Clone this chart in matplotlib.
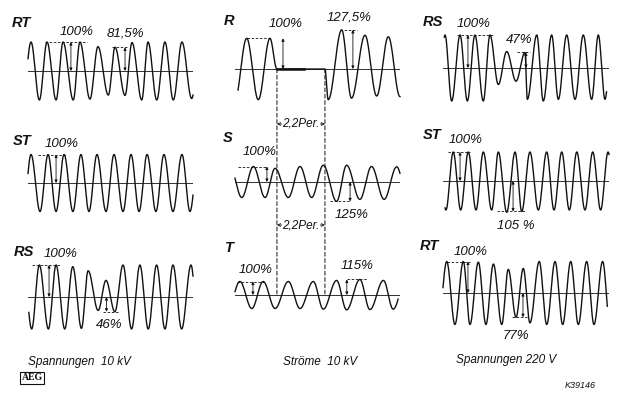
import numpy as np
import matplotlib.pyplot as plt
from matplotlib.patches import ConnectionPatch
from matplotlib.transforms import blended_transform_factory

# Oszillogramme: Extremwerte je Halbwelle, Zeit in Perioden, Wert in % der Amplitude vor dem Fehler

# Spannungen 10 kV
rt10_t = [-0.32, 0.18, 0.68, 1.14, 1.68, 2.1, 2.71, 3.11, 3.71, 4.19, 4.81, 5.21,
          5.81, 6.23, 6.81, 7.19, 7.71, 8.2, 8.7, 9.22, 9.8, 10.3]
rt10_v = [-100, 100, -100, 100, -100, 100, -100, 100, -97, 84, -83, 82,
          -84, 98, -100, 100, -100, 100, -100, 100, -95, 100]
st10_t = [-0.28, 0.18, 0.72, 1.2, 1.68, 2.16, 2.69, 3.17, 3.65, 4.13, 4.67, 5.15,
          5.69, 6.17, 6.65, 7.13, 7.66, 8.14, 8.68, 9.22, 9.7, 10.2]
st10_v = [-100, 100, -100, 100, -100, 100, -100, 100, -100, 100, -100, 100,
          -100, 100, -100, 100, -100, 100, -100, 100, -100, 100]
rs10_t = [-0.28, 0.22, 0.68, 1.22, 1.68, 2.2, 2.68, 3.2, 3.6, 4.2, 4.67, 5.2,
          5.69, 6.2, 6.7, 7.2, 7.7, 8.2, 8.68, 9.2, 9.76, 10.2]
rs10_v = [100, -100, 100, -100, 100, -100, 95, -98, 82, -42, 52, -46,
          100, -100, 100, -100, 100, -100, 100, -100, 100, -100]

# Ströme 10 kV
r_t = [-0.5, 0.0, 0.5, 1.0, 1.5, 1.8, 3.86, 4.0, 4.58, 5.0, 5.58, 6.08, 6.58, 7.08, 7.58]
r_v = [100, -100, 100, -100, 100, 0, 0, -100, 127.5, -95, 110, -88, 105, -90, 100]
s_t = [-0.21, 0.29, 0.79, 1.29, 1.72, 2.29, 2.79, 3.29, 3.79, 4.36, 4.79, 5.36,
       5.86, 6.4, 6.94, 7.4]
s_v = [100, -100, 100, -100, 88, -100, 100, -100, 108, -125, 108, -112,
       100, -112, 98, -100]
t_t = [-0.29, 0.21, 0.72, 1.21, 1.72, 2.29, 2.79, 3.36, 3.79, 4.36, 4.79, 5.36,
       5.79, 6.37, 6.79, 7.3]
t_v = [-100, 100, -100, 100, -100, 100, -100, 100, -105, 108, -110, 115,
       -108, 108, -105, 100]
pause_per = [1.8, 3.86]  # Stromlose Pause 2,2 Perioden

# Spannungen 220 V
rs220_t = [-0.3, 0.13, 0.56, 1.10, 1.57, 2.06, 2.6, 3.03, 3.57, 4.11, 4.71, 5.29,
           5.44, 6.05, 6.47, 7.01, 7.44, 7.98, 8.52, 9.05, 9.59, 10.02, 10.45, 10.9]
rs220_v = [-100, 100, -100, 100, -100, 100, -100, 100, -50, 50, -40, 47,
           -95, 100, -100, 100, -95, 100, -95, 100, -95, 100, -95, 100]
st220_t = [-0.3, 0.19, 0.66, 1.14, 1.63, 2.13, 2.6, 3.14, 3.57, 4.11, 4.65, 5.08,
           5.61, 6.15, 6.69, 7.16, 7.66, 8.15, 8.63, 9.16, 9.66, 10.17, 10.65, 11.1]
st220_v = [100, -100, 100, -100, 100, -100, 100, -100, 100, -108, 100, -105,
           100, -100, 100, -100, 100, -100, 100, -100, 100, -100, 100, -100]
rt220_t = [-0.3, 0.24, 0.77, 1.31, 1.74, 2.28, 2.77, 3.25, 3.79, 4.21, 4.71, 5.18,
           5.61, 6.21, 6.69, 7.23, 7.72, 8.24, 8.73, 9.27, 9.74, 10.3, 10.77]
rt220_v = [-100, 100, -100, 100, -100, 98, -100, 92, -100, 75, -77, 78,
           -95, 100, -100, 100, -100, 100, -100, 100, -100, 100, -100]

W, H = 620, 394
INK = '#111111'
FONTS = ['Liberation Sans', 'DejaVu Sans']

fig = plt.figure(figsize=(W / 100, H / 100), dpi=100)
fig.patch.set_facecolor('white')


def px(x, y):
    return x / W, 1 - y / H


def panel(x0, x1, yb, per, amp, half=58):
    ax = fig.add_axes([x0 / W, 1 - (yb + half) / H, (x1 - x0) / W, 2 * half / H])
    ax.set_xlim(0, (x1 - x0) / per)
    lim = half / amp * 100
    ax.set_ylim(-lim, lim)
    ax.axis('off')
    ax.patch.set_visible(False)
    ax.axhline(0, color=INK, lw=0.6)
    return ax


def wave(ax, t, v, lo, hi):
    t = np.asarray(t, float)
    v = np.asarray(v, float)
    tt = np.linspace(lo, hi, 3000)
    i = np.clip(np.searchsorted(t, tt) - 1, 0, len(t) - 2)
    s = (tt - t[i]) / (t[i + 1] - t[i])
    y = (v[i] + v[i + 1]) / 2 + (v[i] - v[i + 1]) / 2 * np.cos(np.pi * s)
    ax.plot(tt, y, color=INK, lw=1.0, clip_on=False)


def mark(ax, level, t0, t1, ta):
    ax.plot([t0, t1], [level, level], color=INK, lw=0.6, ls=(0, (3, 2)))
    ax.annotate('', xy=(ta, 0), xytext=(ta, level),
                arrowprops=dict(arrowstyle='<|-|>', color=INK, lw=0.6,
                                mutation_scale=4, shrinkA=0, shrinkB=0))


def label(x, y, s, size=9.5, bold=False):
    fig.text(*px(x, y), s, ha='center', va='center', fontsize=size,
             family=FONTS, style='italic',
             weight='bold' if bold else 'normal', color=INK)


# linke Spalte
ax = panel(28, 193, 71, 16.7, 29)
wave(ax, rt10_t, rt10_v, 0, 9.88)
mark(ax, 100, 1.02, 3.53, 2.57)
mark(ax, 81.5, 5.03, 5.99, 5.81)
ax = panel(28, 193, 183, 16.7, 28.5)
wave(ax, st10_t, st10_v, 0, 9.88)
mark(ax, 100, 0.6, 2.34, 1.68)
ax = panel(28, 193, 297, 16.7, 32)
wave(ax, rs10_t, rs10_v, 0.05, 9.88)
mark(ax, 100, 0.24, 1.92, 1.26)
mark(ax, -46, 4.49, 5.39, 4.7)

# mittlere Spalte
ax_r = panel(235, 400, 69, 23.3, 30.7)
wave(ax_r, r_t, r_v, 0.13, 7.08)
ax_r.plot([pause_per[0], 2.95], [0, 0], color=INK, lw=1.8)
mark(ax_r, 100, 0.52, 1.59, 2.06)
mark(ax_r, 127.5, 4.5, 5.24, 5.06)
ax_s = panel(235, 400, 182, 23.3, 15.5)
wave(ax_s, s_t, s_v, 0, 7.08)
mark(ax_s, 100, 0.13, 1.37, 1.37)
mark(ax_s, -125, 4.08, 4.94, 4.94)
ax_t = panel(235, 400, 295, 23.3, 13.5)
wave(ax_t, t_t, t_v, 0, 7.0)
mark(ax_t, 100, 0.1, 1.29, 0.77)
mark(ax_t, 115, 4.8, 5.67, 4.8)

for tp in pause_per:
    fig.add_artist(ConnectionPatch(xyA=(tp, 0), coordsA=ax_r.transData,
                                   xyB=(tp, 0), coordsB=ax_t.transData,
                                   color=INK, lw=0.7, ls=(0, (4, 2.5))))
bt = blended_transform_factory(ax_r.transData, fig.transFigure)
for yy in (124, 225):
    yf = 1 - yy / H
    ax_r.annotate('', xy=(pause_per[0], yf), xytext=(pause_per[1], yf),
                  xycoords=bt, textcoords=bt,
                  arrowprops=dict(arrowstyle='<->', color=INK, lw=0.6,
                                  mutation_scale=5, shrinkA=0, shrinkB=0))
    fig.text(*px(301, yy), '2,2Per.', ha='center', va='center', fontsize=8.5,
             family=FONTS, style='italic', color=INK,
             bbox=dict(boxstyle='square,pad=0.05', fc='white', ec='none'))

# rechte Spalte
ax = panel(443, 609, 68, 15.5, 33)
wave(ax, rs220_t, rs220_v, 0.08, 10.55)
mark(ax, 100, 0.9, 3.23, 1.61)
mark(ax, 47, 4.77, 5.61, 5.35)
ax = panel(443, 609, 181, 15.5, 29)
wave(ax, st220_t, st220_v, 0.13, 10.71)
mark(ax, 100, 0.32, 1.74, 1.1)
mark(ax, -105, 3.48, 5.29, 4.52)
ax = panel(443, 609, 293, 15.5, 31.5)
wave(ax, rt220_t, rt220_v, 0, 10.6)
mark(ax, 100, 0.24, 1.74, 1.61)
mark(ax, -77, 4.45, 5.42, 5.16)

# Beschriftung
for x, y, s in [(21, 23, 'RT'), (22, 141, 'ST'), (24, 252, 'RS'),
                (229, 21, 'R'), (228, 138, 'S'), (229, 248, 'T'),
                (433, 22, 'RS'), (432, 135, 'ST'), (429, 246, 'RT')]:
    label(x, y, s, size=10.5, bold=True)

for x, y, s in [(77, 32, '100%'), (125, 34, '81,5%'), (62, 144, '100%'),
                (61, 254, '100%'), (109, 325, '46%'),
                (286, 24, '100%'), (349, 17, '127,5%'), (260, 152, '100%'),
                (352, 215, '125%'), (256, 270, '100%'), (357, 266, '115%'),
                (474, 24, '100%'), (519, 40, '47%'), (466, 140, '100%'),
                (516, 226, '105 %'), (471, 252, '100%'), (516, 336, '77%')]:
    label(x, y, s, size=9.5)

label(79, 362, 'Spannungen  10 kV', size=8.5)
label(320, 362, 'Ströme  10 kV', size=8.5)
label(506, 360, 'Spannungen 220 V', size=8.5)
label(580, 385, 'K39146', size=6.5)
fig.text(*px(32, 378), 'AEG', ha='center', va='center', fontsize=7,
         family='Liberation Serif', weight='bold', color=INK,
         bbox=dict(boxstyle='square,pad=0.12', fc='white', ec=INK, lw=0.8))

fig.savefig('out.png', dpi=100)
